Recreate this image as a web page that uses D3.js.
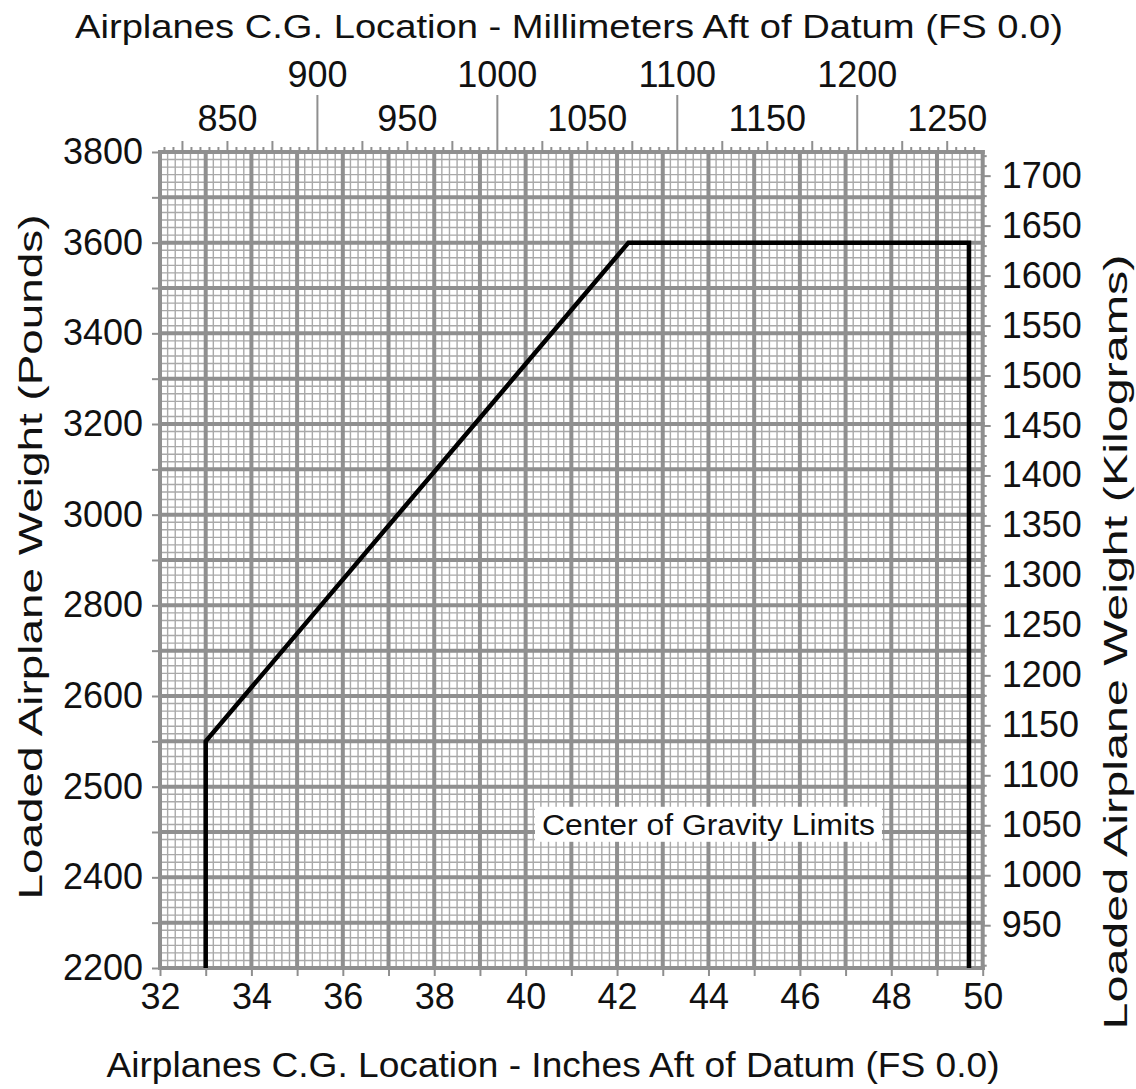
<!DOCTYPE html>
<html>
<head>
<meta charset="utf-8">
<script src="https://cdn.jsdelivr.net/npm/d3@7"></script>
<style>
  html, body { margin: 0; padding: 0; background: #fff; }
  svg { display: block; font-family: "Liberation Sans", Arial, Helvetica, sans-serif; }
</style>
</head>
<body>
<svg id="chart" width="1136" height="1089"></svg>
<script>
// Center of gravity envelope: arm in inches aft of datum vs. loaded weight in pounds
const cgArmInches   = [33.0, 33.0, 42.25, 49.7, 49.7];
const cgWeightLbs   = [2000, 2500, 3600, 3600, 2000];

// Axis tick values and the labels printed beside them
const inchTicks     = [32, 34, 36, 38, 40, 42, 44, 46, 48, 50];
const poundTicks    = [2000, 2200, 2400, 2600, 2800, 3000, 3200, 3400, 3600, 3800];
const poundLabels   = ["2200", "2400", "2500", "2600", "2800", "3000", "3200", "3400", "3600", "3800"];
const mmUpperTicks  = [900, 1000, 1100, 1200];
const mmLowerTicks  = [850, 950, 1050, 1150, 1250];
const kgTicks       = [950, 1000, 1050, 1100, 1150, 1200, 1250, 1300, 1350, 1400, 1450, 1500, 1550, 1600, 1650, 1700];

const MM_PER_INCH = 25.4;
const KG_PER_LB = 0.45359237;

const svg = d3.select("#chart");
const plotLeft = 160, plotRight = 982.7, plotTop = 152, plotBottom = 968;

const x = d3.scaleLinear().domain([32, 50]).range([plotLeft, plotRight]);
const y = d3.scaleLinear().domain([2000, 3800]).range([plotBottom, plotTop]);
const xMm = d3.scaleLinear().domain([32 * MM_PER_INCH, 50 * MM_PER_INCH]).range([plotLeft, plotRight]);
const yKg = d3.scaleLinear().domain([2000 * KG_PER_LB, 3800 * KG_PER_LB]).range([plotBottom, plotTop]);

const gridColor = "#8f8f8f";
const minorColor = "#a9a9a9";
const inkColor = "#111";

// Fine graph-paper grid: six divisions per inch and per 100 lb
const grid = svg.append("g");
const fineX = d3.range(0, 18 * 6 + 1).map(i => 32 + i / 6);
const fineY = d3.range(0, 18 * 6 + 1).map(i => 2000 + i * 100 / 6);
grid.selectAll("line.fx").data(fineX).join("line")
  .attr("x1", d => x(d)).attr("x2", d => x(d))
  .attr("y1", plotTop).attr("y2", plotBottom)
  .attr("stroke", minorColor).attr("stroke-width", 1.4);
grid.selectAll("line.fy").data(fineY).join("line")
  .attr("y1", d => y(d)).attr("y2", d => y(d))
  .attr("x1", plotLeft).attr("x2", plotRight)
  .attr("stroke", minorColor).attr("stroke-width", 1.4);

// Heavy lines every inch and every 100 lb
const heavyX = d3.range(32, 51, 1);
const heavyY = d3.range(2000, 3801, 100);
grid.selectAll("line.hx").data(heavyX).join("line")
  .attr("x1", d => x(d)).attr("x2", d => x(d))
  .attr("y1", plotTop - 2).attr("y2", plotBottom + 2)
  .attr("stroke", gridColor).attr("stroke-width", 4);
grid.selectAll("line.hy").data(heavyY).join("line")
  .attr("y1", d => y(d)).attr("y2", d => y(d))
  .attr("x1", plotLeft - 2).attr("x2", plotRight + 2)
  .attr("stroke", gridColor).attr("stroke-width", 4);

const tickFont = 36;

// Bottom axis: inches
const xAxis = d3.axisBottom(x)
  .tickValues(d3.range(32, 51, 1))
  .tickSize(8).tickPadding(6)
  .tickFormat(d => inchTicks.includes(d) ? d : "");
const gx = svg.append("g").attr("transform", `translate(0,${plotBottom})`).call(xAxis);

// Left axis: pounds
const yAxis = d3.axisLeft(y)
  .tickValues(d3.range(2000, 3801, 100))
  .tickSize(8).tickPadding(9)
  .tickFormat(d => {
    const i = poundTicks.indexOf(d);
    return i >= 0 ? poundLabels[i] : "";
  });
const gy = svg.append("g").attr("transform", `translate(${plotLeft},0)`).call(yAxis);

// Right axis: kilograms, minor ticks every 10 kg
const kgMinor = d3.range(910, 1721, 10).filter(v => v % 50 !== 0);
const gk = svg.append("g").attr("transform", `translate(${plotRight},0)`);
gk.call(d3.axisRight(yKg).tickValues(kgMinor).tickSize(4).tickFormat(""));
const gk2 = svg.append("g").attr("transform", `translate(${plotRight},0)`);
gk2.call(d3.axisRight(yKg).tickValues(kgTicks).tickSize(8).tickPadding(11).tickFormat(d3.format("d")));

// Top axis: millimeters
const mm5 = d3.range(815, 1270, 5).filter(v => v % 25 !== 0);
const mm25 = d3.range(825, 1270, 25).filter(v => v % 100 !== 0);
const gm1 = svg.append("g").attr("transform", `translate(0,${plotTop})`);
gm1.call(d3.axisTop(xMm).tickValues(mm5).tickSize(5).tickFormat(""));
const gm2 = svg.append("g").attr("transform", `translate(0,${plotTop})`);
gm2.call(d3.axisTop(xMm).tickValues(mm25).tickSize(11).tickPadding(10)
  .tickFormat(d => mmLowerTicks.includes(d) ? d : ""));
const gm3 = svg.append("g").attr("transform", `translate(0,${plotTop})`);
gm3.call(d3.axisTop(xMm).tickValues(mmUpperTicks).tickSize(57).tickPadding(8).tickFormat(d3.format("d")));

[gx, gy, gk, gk2, gm1, gm2, gm3].forEach(g => {
  g.select(".domain").remove();
  g.selectAll(".tick line").attr("stroke", gridColor).attr("stroke-width", 2);
  g.selectAll(".tick text").attr("fill", inkColor).style("font-size", tickFont + "px")
    .style("font-family", "'Liberation Sans', Arial, Helvetica, sans-serif");
});
gx.selectAll(".tick text").attr("dy", "0.75em");

// Envelope outline
const line = d3.line().x(d => x(d[0])).y(d => y(d[1]));
svg.append("path")
  .datum(d3.zip(cgArmInches, cgWeightLbs))
  .attr("d", line)
  .attr("fill", "none")
  .attr("stroke", "#000")
  .attr("stroke-width", 4.5)
  .attr("stroke-linejoin", "miter");

// Envelope caption on a white patch
const cap = svg.append("g").attr("transform", `translate(${x(44)},${y(2317)})`);
const capText = cap.append("text")
  .attr("text-anchor", "middle")
  .attr("dy", "0.35em")
  .attr("textLength", 333)
  .attr("lengthAdjust", "spacingAndGlyphs")
  .style("font-size", "30px")
  .attr("fill", inkColor)
  .text("Center of Gravity Limits");
const bb = capText.node().getBBox();
cap.insert("rect", "text")
  .attr("x", bb.x - 7).attr("y", bb.y - 1)
  .attr("width", bb.width + 14).attr("height", bb.height + 2)
  .attr("fill", "#fff");

// Axis titles (set in a wide-tracked face, stretched to their printed length)
function title(transform, length, size, text) {
  svg.append("text")
    .attr("transform", transform)
    .attr("text-anchor", "middle")
    .attr("textLength", length)
    .attr("lengthAdjust", "spacingAndGlyphs")
    .style("font-size", size + "px")
    .attr("fill", inkColor)
    .text(text);
}
title("translate(569,38)", 988, 33, "Airplanes C.G. Location - Millimeters Aft of Datum (FS 0.0)");
title("translate(553,1077)", 893, 35, "Airplanes C.G. Location - Inches Aft of Datum (FS 0.0)");
title("translate(42,557) rotate(-90)", 685, 33, "Loaded Airplane Weight (Pounds)");
title("translate(1127,642) rotate(-90)", 775, 33, "Loaded Airplane Weight (Kilograms)");
</script>
</body>
</html>
